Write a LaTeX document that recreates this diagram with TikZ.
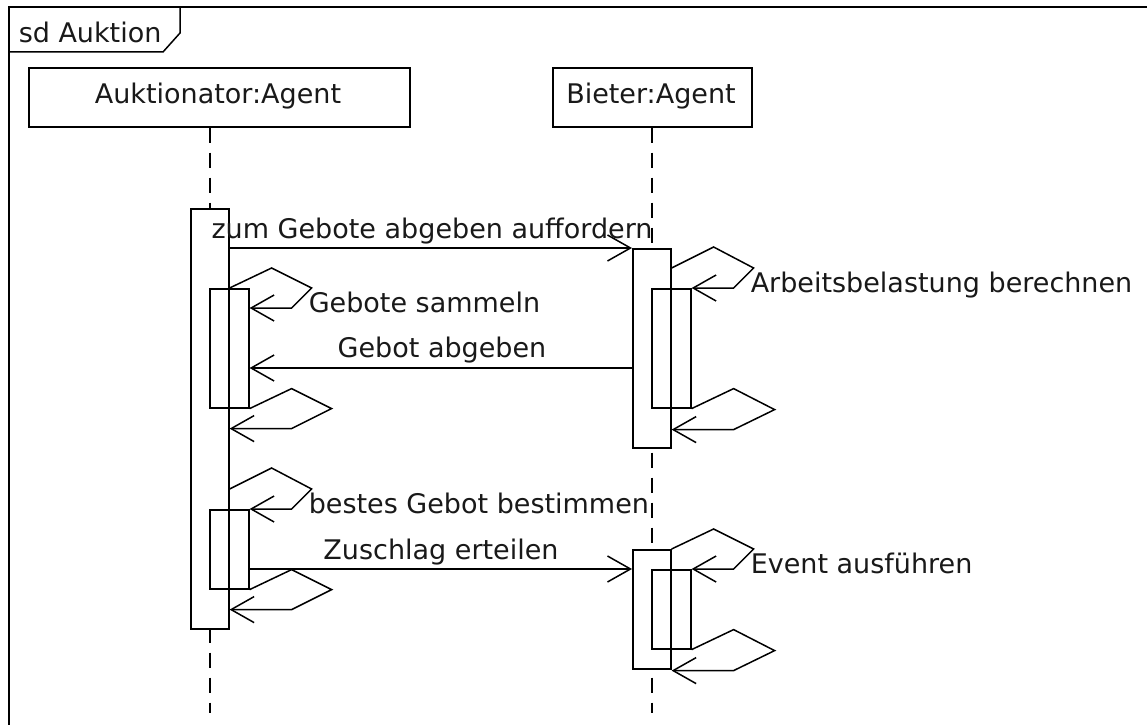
\documentclass[tikz,border=0pt]{standalone}
\usepackage{fontspec}
\setmainfont{DejaVu Sans}
\usetikzlibrary{arrows.meta}
\begin{document}
\begin{tikzpicture}[x=1pt, y=-1pt, line width=1.5pt, line join=miter,
  every node/.style={font=\fontsize{27}{31}\selectfont, inner sep=0pt, text=black!90},
  lifebox/.style={draw, line width=1.6pt, minimum height=59pt, anchor=north west},
  lifeline/.style={dash pattern=on 15pt off 10pt},
  outeract/.style={draw, line width=1.6pt, fill=white, minimum width=38pt, anchor=north west},
  inneract/.style={draw, line width=1.6pt, minimum width=39pt, anchor=north west},
  msg/.style={-{Straight Barb[length=23pt, width=26pt]}},
  lbl/.style={anchor=base},
  lblw/.style={anchor=base west},
]
\useasboundingbox (0,0) rectangle (1147,725);

% frame with its name tab
\draw (1147,7) -- (9,7) -- (9,725);
\draw (9,52) -- (163,52) -- (180,33) -- (180,7);
\node[lblw] (frame) at (18,42) {sd Auktion};

% lifeline heads
\node[lifebox, minimum width=381pt] (Abox) at (28,67) {};
\node[lbl] (Aname) at (218,103) {Auktionator:Agent};
\node[lifebox, minimum width=199pt] (Bbox) at (552,67) {};
\node[lbl] (Bname) at (651,103) {Bieter:Agent};

% lifelines
\coordinate (Aend) at (210,713);
\coordinate (Bend) at (652,713);
\draw[lifeline] (Abox.south -| Aend) -- (Aend);
\draw[lifeline] (Bbox.south -| Bend) -- (Bend);

% activations
\node[outeract, minimum height=420pt] (A1) at (190,208) {};
\node[inneract, minimum height=119pt] (A2) at (209,288) {};
\node[inneract, minimum height=79pt]  (A3) at (209,509) {};
\node[outeract, minimum height=199pt] (B1) at (632,248) {};
\node[inneract, minimum height=119pt] (B2) at (651,288) {};
\node[outeract, minimum height=119pt] (B3) at (632,549) {};
\node[inneract, minimum height=79pt]  (B4) at (651,569) {};

% calls between the agents
\draw[msg] (B1.north west -| A1.east) -- (B1.north west);
\node[lbl] (m1) at (432,238) {zum Gebote abgeben auffordern};

\draw[msg] ([yshift=-120pt]B1.north west) -- ([yshift=-120pt]B1.north west -| A2.east);
\node[lbl] (m2) at (442,357) {Gebot abgeben};

\draw[msg] ([yshift=-20pt]B3.north west -| A3.east) -- ([yshift=-20pt]B3.north west);
\node[lbl] (m3) at (441,559) {Zuschlag erteilen};

% self calls on the auctioneer
\draw[msg] (A2.north -| A1.east) -- ++(42,-20) -- ++(40,20) -- ++(-20,20)
  -- ([yshift=-20pt]A2.north east);
\node[lblw] (s1) at (308,312) {Gebote sammeln};
\draw[msg] (A2.south east) -- ++(42,-20) -- ++(40,20) -- ++(-40,20)
  -- ([yshift=-20pt]A2.south east -| A1.east);

\draw[msg] ([yshift=20pt]A3.north -| A1.east) -- ++(42,-21) -- ++(40,21) -- ++(-20,20)
  -- (A3.north east);
\node[lblw] (s3) at (308,513) {bestes Gebot bestimmen};
\draw[msg] (A3.south east) -- ++(42,-20) -- ++(40,20) -- ++(-40,20)
  -- ([yshift=-20pt]A3.south east -| A1.east);

% self calls on the bidder
\draw[msg] ([yshift=20pt]B2.north -| B1.east) -- ++(42,-21) -- ++(40,21) -- ++(-20,20)
  -- (B2.north east);
\node[lblw] (s2) at (750,292) {Arbeitsbelastung berechnen};
\draw[msg] (B2.south east) -- ++(42,-20) -- ++(41,21) -- ++(-41,20)
  -- ([yshift=-21pt]B2.south east -| B1.east);

\draw[msg] ([yshift=20pt]B4.north -| B3.east) -- ++(42,-20) -- ++(40,20) -- ++(-20,20)
  -- (B4.north east);
\node[lblw] (s4) at (750,573) {Event ausführen};
\draw[msg] (B4.south east) -- ++(42,-20) -- ++(41,21) -- ++(-41,20)
  -- ([yshift=-21pt]B4.south east -| B3.east);
\end{tikzpicture}
\end{document}
